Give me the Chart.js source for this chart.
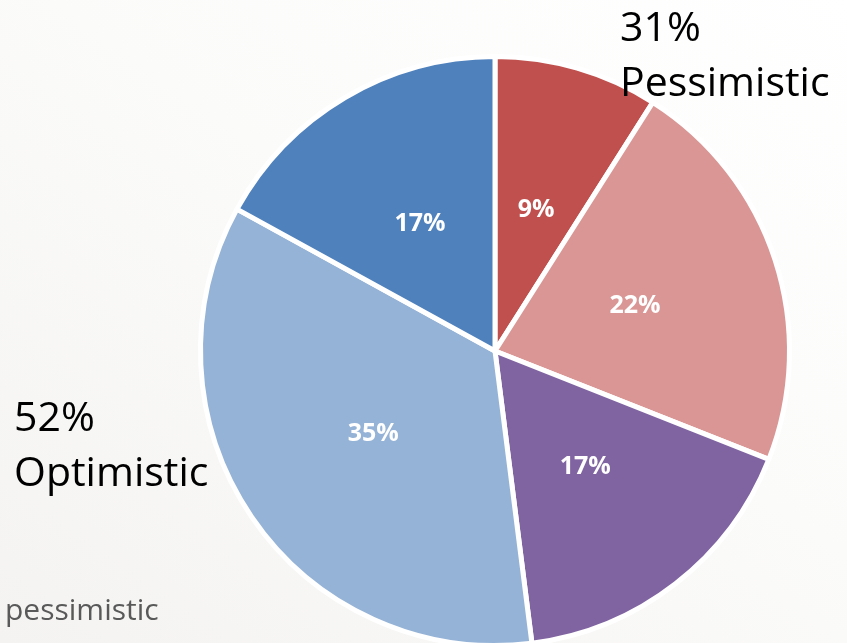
<!DOCTYPE html>
<html>
<head>
<meta charset="utf-8">
<script src="https://cdn.jsdelivr.net/npm/chart.js@4"></script>
<style>
  html, body { margin: 0; padding: 0; }
  body {
    width: 847px; height: 643px; overflow: hidden; position: relative;
    background: linear-gradient(215deg, #ffffff 0%, #fbfbfa 45%, #f4f3f1 100%);
    font-family: "Open Sans", sans-serif;
  }
  #wrap { position: absolute; left: 0; top: 0; width: 847px; height: 660px; }
  .note { position: absolute; color: #000; font-size: 41px; line-height: 55px; white-space: nowrap; }
  #sub { position: absolute; left: 5px; top: 589px; color: #595959; font-size: 30px; line-height: 40px; white-space: nowrap; }
</style>
</head>
<body>
<div id="wrap"><canvas id="pie"></canvas></div>
<div class="note" style="left:620px; top:-2px;">31%<br>Pessimistic</div>
<div class="note" style="left:14px; top:388px;">52%<br>Optimistic</div>
<div id="sub">pessimistic</div>
<script>
// slices, clockwise from 12 o'clock
const sliceLabels = ['Very pessimistic', 'Somewhat pessimistic', 'Neutral', 'Somewhat optimistic', 'Very optimistic'];
const sliceValues = [9, 22, 17, 35, 17];
const sliceColors = ['#C0504D', '#D99694', '#8064A2', '#95B3D7', '#4F81BD'];

// percent text in the middle of each slice
const pctLabels = {
    id: 'pctLabels',
    afterDatasetsDraw(chart) {
        const ctx = chart.ctx;
        const meta = chart.getDatasetMeta(0);
        ctx.save();
        ctx.fillStyle = '#ffffff';
        ctx.font = 'bold 25px "Open Sans"';
        ctx.textAlign = 'center';
        ctx.textBaseline = 'middle';
        meta.data.forEach((arc, i) => {
            const p = arc.tooltipPosition();
            ctx.fillText(sliceValues[i] + '%', p.x, p.y);
        });
        ctx.restore();
    }
};

new Chart(document.getElementById('pie'), {
    type: 'pie',
    data: {
        labels: sliceLabels,
        datasets: [{ data: sliceValues,
            backgroundColor: sliceColors,
            borderColor: '#ffffff', borderWidth: 5 }]
    },
    options: {
        responsive: true, maintainAspectRatio: false, animation: false,
        layout: { padding: { left: 198, right: 55, top: 54, bottom: 12 } },
        plugins: { legend: { display: false }, tooltip: { enabled: false } }
    },
    plugins: [pctLabels]
});
</script>
</body>
</html>
